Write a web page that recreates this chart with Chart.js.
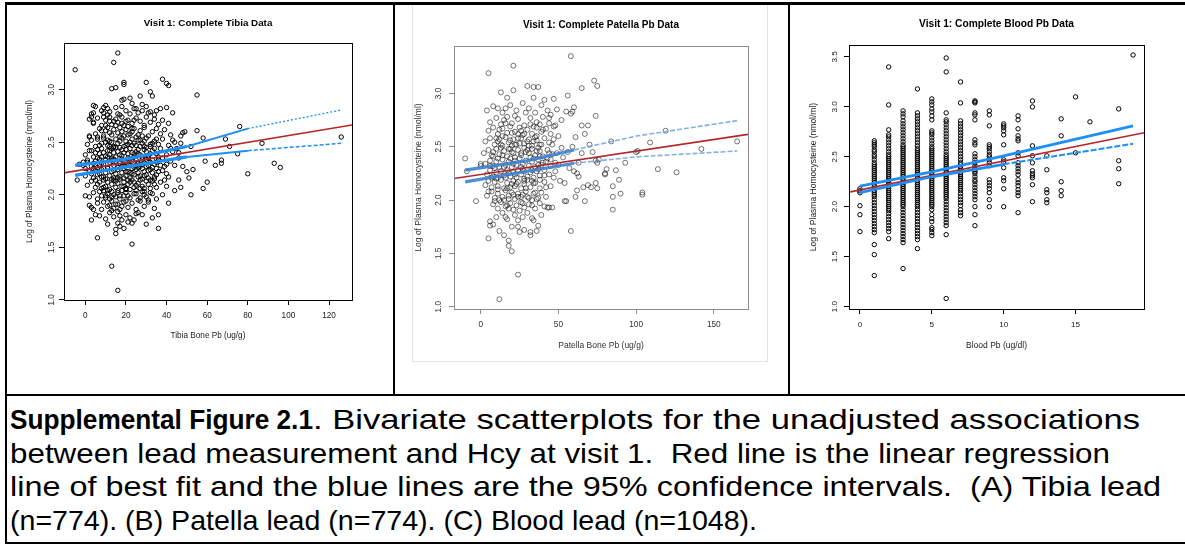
<!DOCTYPE html>
<html>
<head>
<meta charset="utf-8">
<script src="https://cdn.jsdelivr.net/npm/chart.js@4.4.1/dist/chart.umd.min.js"></script>
<style>
  body { margin: 0; background: #fff; width: 1185px; height: 544px; overflow: hidden; position: relative;
         font-family: "Liberation Sans", Arial, Helvetica, sans-serif; }
  .rule { position: absolute; background: #000; }
  canvas { position: absolute; }
  #frame2 { position: absolute; left: 412px; top: 4px; width: 354px; height: 356px;
            border: 1px solid #e4e4e4; border-top: 1px solid #9a9a9a; }
  #caption { position: absolute; left: 10px; top: 403px; font-size: 28px; line-height: 33.5px;
             white-space: pre; color: #000; }
  #caption span { display: inline-block; transform-origin: 0 50%; }
</style>
</head>
<body>
<div id="frame2"></div>
<canvas id="tibia" width="386" height="389" style="left:7px;top:5px"></canvas>
<canvas id="patella" width="391" height="389" style="left:396px;top:5px"></canvas>
<canvas id="blood" width="395" height="389" style="left:790px;top:5px"></canvas>

<div class="rule" style="left:5px;top:2px;width:1180px;height:3px"></div>
<div class="rule" style="left:5px;top:2px;width:2px;height:542px"></div>
<div class="rule" style="left:393px;top:2px;width:2px;height:394px"></div>
<div class="rule" style="left:788px;top:2px;width:2px;height:394px"></div>
<div class="rule" style="left:5px;top:394px;width:1180px;height:2px"></div>
<div class="rule" style="left:5px;top:542px;width:1180px;height:2px"></div>

<div id="caption"><div><span><b>Supplemental Figure 2.1</b></span><span>. Bivariate scatterplots for the unadjusted associations</span></div><div><span>between lead measurement and Hcy at visit 1.  Red line is the linear regression</span></div><div><span>line of best fit and the blue lines are the 95% confidence intervals.  (A) Tibia lead</span></div><div><span>(n=774). (B) Patella lead (n=774). (C) Blood lead (n=1048).</span></div></div>

<script>
// tick labels
const tibiaTicksX = [0, 20, 40, 60, 80, 100, 120];
const patellaTicksX = [0, 50, 100, 150];
const bloodTicksX = [0, 5, 10, 15];
const hcyTicks = [1.0, 1.5, 2.0, 2.5, 3.0];
const bloodHcyTicks = [1.0, 1.5, 2.0, 2.5, 3.0, 3.5];

// visit 1 tibia Pb (ug/g) vs log Hcy
const tibiaPoints = [
  [-5,3.19],[16,3.35],[14,3.26],[19,3.07],[19,3.05],[13,3.01],[15,3.02],[30,3.07],[38,3.10],[40,3.06],[41,3.04],
  [32,2.98],[33,2.94],[55,2.95],[43,2.78],[40,2.83],[76,2.65],[58,2.54],[55,2.61],[69,2.53],[71,2.46],[75,2.39],
  [87,2.49],[126,2.55],[93,2.30],[96,2.26],[80,2.20],[67,2.33],[67,2.30],[64,2.28],[59,2.32],[58,2.06],[60,2.12],
  [52,2.00],[51,2.16],[53,2.24],[50,2.22],[48,2.59],[47,2.56],[47,2.49],[46,2.40],[46,2.35],[44,2.04],[41,1.92],
  [47,2.07],[46,2.14],[38,2.00],[36,1.81],[36,1.68],[33,1.78],[30,1.72],[28,1.81],[25,1.82],[24,1.76],[23,1.53],
  [23,1.73],[13,1.32],[16,1.09],[6,1.59],[15,1.63],[15,1.67],[3,1.76],[5,1.81],[2,1.90],[0,1.99],[4,1.86],
  [-4,2.14],[-3,2.29],[-1,2.31],[0,2.25],[1,2.31],[2,2.56],[2,2.55],[4,2.85],[4,2.78],[3,2.74],[4,2.69],
  [10,2.85],[9,2.83],[11,2.76],[18,2.90],[19,2.91],[22,2.92],[23,2.87],[25,2.82],[27,2.94],[28,2.86],[49,2.60],
  [52,2.46],[45,2.44],[48,2.27],[43,2.52],[44,2.28],[40,2.20],
  [3,2.77],[5,2.84],[8,2.80],[9,2.78],[11,2.82],[12,2.79],[15,2.83],[17,2.76],[18,2.84],[20,2.80],[22,2.77],
  [24,2.82],[26,2.78],[28,2.80],[30,2.84],[32,2.79],[34,2.76],[37,2.82],[31,2.78],[35,2.80],
  [2,2.72],[4,2.68],[6,2.73],[8,2.66],[10,2.71],[12,2.74],[13,2.67],[15,2.72],[16,2.69],[18,2.74],[19,2.66],
  [21,2.71],[23,2.68],[25,2.73],[27,2.70],[29,2.66],[30,2.74],[32,2.69],[34,2.72],[36,2.67],[38,2.71],[41,2.68],
  [20,2.70],[14,2.70],
  [5,2.58],[7,2.63],[9,2.56],[10,2.61],[11,2.64],[13,2.57],[14,2.62],[16,2.59],[17,2.64],[19,2.56],[20,2.62],
  [22,2.58],[24,2.63],[26,2.57],[27,2.61],[29,2.64],[31,2.56],[33,2.60],[35,2.63],[37,2.58],[39,2.62],[42,2.57],
  [18,2.60],[23,2.60],[12,2.59],[8,2.61],
  [1,2.48],[3,2.52],[5,2.46],[6,2.53],[8,2.49],[9,2.54],[11,2.47],[12,2.51],[14,2.45],[15,2.53],[16,2.49],
  [18,2.54],[19,2.46],[20,2.51],[21,2.48],[23,2.53],[25,2.47],[26,2.52],[28,2.49],[30,2.54],[32,2.46],[34,2.51],
  [36,2.48],[38,2.53],[41,2.47],[44,2.50],[13,2.50],[17,2.51],[22,2.50],[27,2.46],[10,2.50],[24,2.49],[29,2.51],
  [33,2.49],[35,2.53],
  [0,2.38],[2,2.42],[4,2.36],[6,2.43],[7,2.39],[8,2.44],[10,2.37],[11,2.42],[12,2.38],[13,2.44],[15,2.36],
  [16,2.41],[17,2.45],[18,2.37],[20,2.43],[21,2.39],[22,2.44],[24,2.36],[25,2.41],[27,2.38],[29,2.43],[31,2.37],
  [33,2.42],[35,2.39],[37,2.44],[40,2.38],[43,2.41],[9,2.40],[14,2.40],[19,2.40],[23,2.40],[26,2.43],[28,2.36],
  [30,2.41],[32,2.39],[34,2.44],[36,2.36],[5,2.40],
  [-1,2.28],[1,2.33],[3,2.27],[5,2.32],[6,2.26],[7,2.34],[9,2.29],[10,2.33],[11,2.26],[12,2.31],[13,2.35],
  [14,2.28],[15,2.32],[16,2.26],[17,2.30],[18,2.34],[19,2.27],[20,2.31],[21,2.35],[22,2.28],[23,2.32],[24,2.26],
  [26,2.30],[28,2.34],[30,2.27],[32,2.31],[34,2.29],[36,2.33],[39,2.27],[42,2.32],[8,2.30],[4,2.30],[25,2.33],
  [27,2.27],[29,2.30],[31,2.35],[33,2.26],[35,2.31],[37,2.28],
  [0,2.18],[2,2.22],[4,2.16],[5,2.23],[6,2.19],[8,2.24],[9,2.17],[10,2.21],[11,2.25],[12,2.18],[13,2.22],
  [14,2.16],[15,2.20],[16,2.24],[17,2.17],[18,2.21],[19,2.25],[20,2.18],[21,2.22],[22,2.16],[23,2.20],[25,2.24],
  [27,2.18],[29,2.22],[31,2.16],[33,2.21],[35,2.19],[38,2.23],[41,2.17],[7,2.20],[3,2.20],[24,2.19],[26,2.21],
  [28,2.25],[30,2.19],[32,2.24],[34,2.17],[36,2.22],
  [1,2.09],[3,2.13],[5,2.07],[7,2.12],[8,2.06],[9,2.14],[10,2.08],[11,2.12],[12,2.05],[13,2.10],[14,2.14],
  [15,2.07],[16,2.11],[17,2.15],[18,2.08],[19,2.12],[20,2.06],[21,2.10],[23,2.14],[24,2.07],[26,2.11],[28,2.08],
  [30,2.13],[32,2.06],[34,2.10],[37,2.12],[40,2.08],[6,2.10],[22,2.12],[25,2.09],[27,2.14],[29,2.06],[31,2.10],
  [33,2.13],[35,2.07],
  [2,1.98],[4,2.02],[6,1.96],[7,2.03],[8,1.99],[9,2.04],[10,1.97],[11,2.01],[12,1.96],[13,2.03],[15,1.98],
  [16,2.02],[17,1.96],[18,2.04],[19,1.99],[20,2.02],[22,1.97],[24,2.01],[26,1.95],[28,2.03],[30,1.98],[33,2.01],
  [35,1.96],[14,2.00],[21,1.99],[25,2.04],[27,1.97],[29,2.00],[31,1.95],[32,2.02],
  [3,1.88],[6,1.92],[8,1.86],[9,1.93],[11,1.89],[13,1.94],[14,1.87],[16,1.91],[17,1.86],[19,1.93],[21,1.88],
  [23,1.92],[25,1.86],[27,1.94],[29,1.89],[31,1.93],[34,1.87],[12,1.90],[18,1.89],[20,1.94],
  [7,1.80],[10,1.77],[12,1.83],[14,1.79],[16,1.84],[18,1.76],[20,1.81],[22,1.78],[26,1.83],[13,1.85],[17,1.80],
  [11,1.72],[17,1.70],[19,1.68],[21,1.74],[16,1.73],
  [6,2.55],[7,2.47],[8,2.36],[9,2.25],[10,2.15],[11,2.04],[12,2.46],[13,2.33],[14,2.23],[15,2.13],[16,2.04],
  [17,2.55],[18,2.43],[19,2.32],[20,2.22],[21,2.14],[22,2.05],[23,2.47],[24,2.39],[25,2.28],[26,2.17],[27,2.06],
  [28,2.56],[29,2.46],[30,2.34],[31,2.23],[32,2.14],[7,2.28],[8,2.17],[9,2.07],[10,1.99],[11,2.52],[12,2.42],
  [13,2.15],[14,2.34],[15,2.45],[16,2.16],[17,2.38],[18,2.27],[19,2.16],[20,2.05],[21,2.57],[22,2.34],[23,2.25],
  [24,2.12],[25,2.01],[26,2.39],[27,2.29],[28,2.15],[29,2.03],[30,2.45],[31,2.28],[33,2.33],[34,2.15],[6,2.35],
  [5,2.14],[4,2.25],[3,2.42],[13,1.98],[15,1.91],[17,1.99],[19,2.08],[21,2.29],[23,2.63],[25,2.55],[27,2.52],
  [10,2.66],[12,2.70],[15,2.66],[18,2.68],[21,2.65],[24,2.71],[9,2.74],[16,2.77],[14,2.46],[11,2.36],[20,2.47],
  [22,2.21],[26,2.26],[29,2.18],[32,2.48],[35,2.25],[38,2.35],[40,2.29],[42,2.44],[39,2.14]
];

// visit 1 patella Pb (ug/g) vs log Hcy
const patellaPoints = [
  [-10,2.39],[-9,2.27],[-3,1.99],[0,2.34],[0,2.32],[5,3.19],[21,3.26],[58,3.35],[73,3.12],[75,3.07],[65,3.05],
  [56,2.98],[74,2.79],[65,2.70],[69,2.70],[67,2.62],[61,2.59],[84,2.55],[119,2.65],[109,2.54],[100,2.45],[101,2.46],
  [142,2.48],[165,2.55],[114,2.29],[126,2.26],[93,2.35],[87,2.28],[89,2.19],[85,2.13],[85,2.03],[90,2.06],[104,2.07],
  [104,2.05],[85,1.91],[80,2.24],[80,2.25],[81,2.29],[74,2.37],[75,2.35],[76,2.38],[75,2.11],[74,2.16],[71,2.12],
  [69,2.14],[66,2.12],[67,1.99],[61,2.03],[62,2.09],[58,1.71],[54,1.99],[55,1.99],[54,2.16],[49,2.85],[47,2.95],
  [55,2.83],[59,2.83],[60,2.87],[58,2.81],[41,2.94],[34,3.06],[37,3.06],[30,3.07],[34,2.96],[13,3.01],[21,3.03],
  [17,2.96],[4,2.84],[11,2.86],[12,1.71],[5,1.64],[6,1.80],[6,1.76],[8,1.77],[18,1.62],[18,1.57],[20,1.52],
  [24,1.30],[12,1.07],[15,1.67],[16,1.84],[20,1.75],[24,1.75],[25,1.70],[28,1.72],[32,1.70],[32,1.67],[36,1.71],
  [37,1.76],[34,1.81],[39,1.86],[43,1.93],[44,1.93],[46,1.93],[60,2.27],[62,2.25],[63,2.22],[57,2.30],[52,2.49],
  [53,2.40],[56,2.45],[59,2.50],[65,2.44],[70,2.52],[72,2.45],[63,2.35],[50,2.60],[48,2.70],[52,2.75],[45,2.80],
  [44,2.77],
  [8,2.88],[14,2.82],[19,2.89],[23,2.84],[27,2.91],[31,2.86],[35,2.82],[39,2.89],[43,2.84],[16,2.86],[29,2.82],
  [6,2.73],[10,2.77],[13,2.71],[17,2.78],[20,2.72],[24,2.76],[28,2.70],[32,2.77],[36,2.73],[40,2.78],[44,2.72],
  [22,2.79],[38,2.71],[15,2.75],
  [5,2.65],[8,2.68],[11,2.62],[14,2.67],[17,2.63],[19,2.69],[22,2.64],[25,2.68],[27,2.61],[30,2.66],[33,2.62],
  [36,2.68],[39,2.64],[42,2.67],[45,2.62],[47,2.69],[24,2.62],[34,2.69],
  [3,2.55],[6,2.58],[9,2.52],[12,2.57],[14,2.51],[16,2.59],[18,2.54],[21,2.57],[23,2.52],[26,2.58],[28,2.53],
  [31,2.57],[33,2.51],[36,2.56],[38,2.52],[41,2.58],[44,2.54],[47,2.57],[20,2.51],[30,2.55],[11,2.55],[35,2.59],
  [2,2.44],[5,2.47],[7,2.42],[10,2.48],[12,2.43],[15,2.46],[17,2.41],[19,2.48],[21,2.44],[24,2.47],[26,2.42],
  [28,2.49],[31,2.44],[33,2.48],[35,2.42],[38,2.46],[40,2.41],[43,2.47],[46,2.43],[8,2.45],[13,2.49],[22,2.40],
  [29,2.45],[37,2.49],[44,2.44],
  [3,2.34],[6,2.37],[8,2.32],[10,2.36],[12,2.31],[14,2.38],[16,2.33],[18,2.36],[20,2.31],[22,2.37],[23,2.33],
  [25,2.39],[27,2.34],[29,2.37],[31,2.32],[33,2.36],[35,2.31],[37,2.38],[39,2.33],[42,2.36],[45,2.32],[48,2.35],
  [11,2.39],[19,2.39],[26,2.31],[34,2.39],
  [4,2.24],[6,2.28],[8,2.22],[10,2.26],[11,2.21],[13,2.27],[15,2.23],[17,2.28],[19,2.22],[21,2.26],[23,2.21],
  [24,2.28],[26,2.24],[28,2.27],[30,2.22],[32,2.26],[34,2.21],[36,2.27],[38,2.23],[41,2.28],[44,2.24],[47,2.21],
  [18,2.25],[28,2.20],[37,2.29],
  [3,2.14],[5,2.18],[7,2.12],[9,2.17],[11,2.13],[13,2.19],[15,2.11],[17,2.16],[19,2.12],[21,2.18],[22,2.13],
  [24,2.17],[26,2.11],[28,2.15],[30,2.19],[32,2.12],[35,2.16],[38,2.11],[41,2.17],[45,2.13],[20,2.15],[33,2.18],
  [4,2.04],[7,2.08],[9,2.02],[11,2.06],[14,2.03],[16,2.09],[18,2.04],[20,2.07],[22,2.01],[24,2.06],[26,2.03],
  [29,2.08],[31,2.02],[34,2.06],[36,2.01],[39,2.07],[42,2.03],[15,2.00],[27,2.05],[33,2.00],
  [8,1.96],[11,1.92],[13,1.98],[16,1.94],[19,1.97],[21,1.91],[23,1.95],[26,1.98],[28,1.93],[31,1.96],[35,1.92],
  [38,1.97],[41,1.94],[18,1.92],[25,1.90],
  [10,1.84],[14,1.88],[17,1.82],[22,1.86],[27,1.84],[30,1.88],[33,1.83],[24,1.81],
  [8,2.41],[9,2.30],[10,2.20],[11,2.10],[12,2.00],[13,2.52],[14,2.42],[15,2.31],[16,2.21],[17,2.11],[18,2.01],
  [19,2.56],[20,2.45],[21,2.34],[22,2.24],[23,2.15],[24,2.03],[25,2.53],[26,2.44],[27,2.29],[28,2.18],[29,2.11],
  [30,2.03],[31,2.51],[32,2.40],[33,2.28],[34,2.16],[35,2.07],[36,2.46],[37,2.33],[38,2.19],[39,2.52],[40,2.35],
  [41,2.23],[42,2.12],[43,2.39],[12,2.66],[16,2.72],[20,2.63],[24,2.58],[28,2.62],[32,2.71],[36,2.60],[40,2.66],
  [10,2.58],[14,2.60],[18,2.48],[22,2.52],[26,2.65],[30,2.47],[34,2.55],[38,2.41],[6,2.32],[7,2.21],[5,2.08],
  [9,1.99],[17,1.95],[21,2.05],[27,1.97],[33,1.95],[37,2.02],[45,2.38],[46,2.52],[48,2.27],[50,2.33],[51,2.18],
  [49,2.44]
];

// visit 1 blood Pb (ug/dl, whole numbers) with the log Hcy values at each level
const bloodColumns = [
  [0, [2.18,2.16,2.14,2.01,1.92,1.75]],
  [1, [2.66,2.64,2.62,2.60,2.57,2.55,2.52,2.50,2.47,2.44,2.42,2.40,2.38,2.36,2.34,2.32,2.30,2.28,2.26,2.24,
       2.22,2.20,2.18,2.16,2.14,2.12,2.10,2.07,2.04,2.01,1.98,1.95,1.92,1.89,1.86,1.83,1.80,1.77,1.74,1.62,1.52,1.31]],
  [2, [3.40,3.02,2.77,2.72,2.70,2.67,2.64,2.61,2.58,2.55,2.52,2.50,2.48,2.46,2.44,2.42,2.40,2.38,2.36,2.34,
       2.32,2.30,2.28,2.26,2.24,2.22,2.20,2.18,2.16,2.14,2.12,2.10,2.08,2.06,2.04,2.02,2.00,1.98,1.96,1.93,
       1.90,1.87,1.84,1.81,1.78,1.75,1.68]],
  [3, [2.96,2.93,2.90,2.86,2.83,2.80,2.77,2.74,2.71,2.68,2.65,2.62,2.60,2.58,2.56,2.54,2.52,2.50,2.48,2.46,
       2.44,2.42,2.40,2.38,2.36,2.34,2.32,2.30,2.28,2.26,2.24,2.22,2.20,2.18,2.16,2.14,2.12,2.10,2.08,2.06,
       2.04,2.02,2.00,1.97,1.94,1.91,1.88,1.85,1.82,1.79,1.76,1.73,1.70,1.67,1.64,1.38]],
  [4, [3.18,2.94,2.91,2.88,2.85,2.82,2.79,2.76,2.73,2.70,2.67,2.64,2.61,2.58,2.56,2.54,2.52,2.50,2.48,2.46,
       2.44,2.42,2.40,2.38,2.36,2.34,2.32,2.30,2.28,2.26,2.24,2.22,2.20,2.18,2.16,2.14,2.12,2.10,2.08,2.06,
       2.04,2.02,2.00,1.97,1.94,1.91,1.88,1.85,1.82,1.79,1.76,1.73,1.70,1.67,1.58]],
  [5, [3.08,3.05,3.02,2.98,2.95,2.91,2.87,2.76,2.74,2.72,2.69,2.66,2.63,2.60,2.58,2.56,2.54,2.52,2.50,2.48,
       2.46,2.44,2.42,2.40,2.38,2.36,2.34,2.32,2.30,2.28,2.26,2.24,2.22,2.20,2.18,2.16,2.14,2.12,2.10,2.08,
       2.06,2.04,2.02,2.00,1.97,1.92,1.88,1.85,1.79,1.77,1.74,1.71]],
  [6, [3.49,3.35,2.94,2.87,2.85,2.82,2.79,2.76,2.73,2.70,2.67,2.64,2.61,2.58,2.55,2.52,2.50,2.48,2.46,2.44,
       2.42,2.40,2.38,2.36,2.34,2.32,2.30,2.28,2.26,2.24,2.22,2.20,2.18,2.16,2.14,2.12,2.10,2.08,2.05,2.02,
       1.99,1.96,1.93,1.90,1.87,1.84,1.81,1.72,1.08]],
  [7, [3.25,3.04,2.86,2.83,2.80,2.77,2.74,2.71,2.68,2.65,2.62,2.59,2.56,2.53,2.50,2.47,2.44,2.42,2.40,2.38,
       2.36,2.34,2.32,2.30,2.28,2.26,2.24,2.22,2.20,2.18,2.16,2.13,2.10,2.07,2.04,2.01,1.97,1.94,1.91]],
  [8, [3.06,3.05,3.04,2.94,2.92,2.87,2.67,2.64,2.62,2.53,2.50,2.47,2.44,2.41,2.39,2.37,2.35,2.33,2.30,2.27,
       2.25,2.22,2.19,2.16,2.13,2.10,2.07,2.00,1.92,1.81]],
  [9, [2.96,2.92,2.81,2.62,2.60,2.58,2.55,2.52,2.50,2.47,2.44,2.41,2.27,2.24,2.21,2.18,2.14,2.07,2.00]],
  [10, [2.83,2.81,2.79,2.76,2.72,2.62,2.47,2.45,2.39,2.29,2.26,2.18,2.00]],
  [11, [2.91,2.87,2.78,2.71,2.68,2.66,2.54,2.51,2.44,2.41,2.38,2.35,2.32,2.27,2.24,2.21,2.17,2.14,2.11,1.94]],
  [12, [3.06,3.00,2.61,2.51,2.44,2.36,2.33,2.31,2.29,2.22,2.05]],
  [13, [2.51,2.37,2.17,2.14,2.07,2.04]],
  [14, [2.88,2.71,2.25,2.16,2.11]],
  [15, [3.10,2.54]],
  [16, [2.85]],
  [18, [2.98,2.46,2.38,2.23]],
  [19, [3.52]]
];

// regression fits [intercept, slope] and the 95% confidence limits [x, log Hcy]
const tibiaFit = [2.242, 0.00322];
const tibiaUpper = [[-5,2.28],[20,2.34],[50,2.46],[80,2.63],[126,2.807]];
const tibiaLower = [[-5,2.185],[20,2.265],[50,2.36],[80,2.42],[126,2.49]];

const patellaFit = [2.240, 0.002185];
const patellaUpper = [[-10,2.28],[30,2.37],[60,2.47],[100,2.60],[165,2.745]];
const patellaLower = [[-10,2.17],[30,2.27],[60,2.345],[100,2.405],[165,2.46]];

const bloodFit = [2.168, 0.029];
const bloodUpper = [[0,2.205],[5,2.35],[10,2.51],[19,2.81]];
const bloodLower = [[0,2.14],[5,2.30],[10,2.425],[19,2.63]];

// rendered widths of the caption pieces (bold label, rest of line 1, lines 2-4)
const captionWidths = [303, 827, 1100, 1151, 747];

const RED = '#b3262a';
const BLUE = '#1e8ff5';

const toXY = pts => pts.map(([x, y]) => ({ x, y }));

// frame around the plotting region
const plotBox = {
  id: 'plotBox',
  afterDraw(chart, args, opts) {
    const { ctx, chartArea: a } = chart;
    ctx.save();
    ctx.strokeStyle = opts.color || '#000';
    ctx.lineWidth = 1;
    ctx.strokeRect(Math.round(a.left) + 0.5, Math.round(a.top) + 0.5,
                   Math.round(a.right - a.left), Math.round(a.bottom - a.top));
    ctx.restore();
  }
};

function line(data, color, width, dash) {
  return { type: 'line', data: toXY(data), borderColor: color, borderWidth: width,
           borderDash: dash || [], pointRadius: 0, fill: false, tension: 0 };
}

function fitLine(fit, xMin, xMax) {
  return line([[xMin, fit[0] + fit[1] * xMin], [xMax, fit[0] + fit[1] * xMax]], RED, 1.6);
}

function makeChart(id, p) {
  const [l, t, r, b] = p.area;
  const lhTitle = p.titleSize * 1.2, lhTick = p.tickSize * 1.2, lhLab = p.labelSize * 1.2;
  const widest = p.tickSize * 1.39;
  return new Chart(document.getElementById(id), {
    type: 'scatter',
    data: { datasets: p.datasets },
    options: {
      responsive: false,
      animation: false,
      devicePixelRatio: 1,
      layout: { padding: { left: 0, top: 0, right: p.width - r, bottom: 0 } },
      plugins: {
        legend: { display: false },
        tooltip: { enabled: false },
        title: {
          display: true, text: p.title, fullSize: false, color: '#000',
          font: { size: p.titleSize, weight: 'bold' },
          padding: { top: p.titleY - lhTitle / 2, bottom: t - p.titleY - lhTitle / 2 }
        },
        plotBox: { color: p.ink }
      },
      scales: {
        x: {
          type: 'linear', min: p.xMin, max: p.xMax,
          afterBuildTicks: s => { s.ticks = p.xTicks.map(v => ({ value: v })); },
          afterFit: s => { s.height = p.height - b; },
          grid: { display: true, drawOnChartArea: false, tickLength: 5, color: p.ink },
          border: { display: false },
          ticks: { font: { size: p.tickSize }, color: p.text, maxRotation: 0,
                   padding: p.xTickY - b - 5 - lhTick / 2 },
          title: { display: true, text: p.xLabel, color: p.text, font: { size: p.labelSize },
                   padding: { top: 0, bottom: p.height - p.xTitleY - lhLab / 2 } }
        },
        y: {
          type: 'linear', min: p.yMin, max: p.yMax,
          afterBuildTicks: s => { s.ticks = p.yTicks.map(v => ({ value: v })); },
          afterFit: s => { s.width = l; },
          grid: { display: true, drawOnChartArea: false, tickLength: 5, color: p.ink },
          border: { display: false },
          ticks: { font: { size: p.tickSize }, color: p.text, minRotation: 90, maxRotation: 90,
                   crossAlign: 'center', padding: l - 5 - p.yTickX - widest / 2,
                   callback: v => v.toFixed(1) },
          title: { display: true, text: 'Log of Plasma Homocysteine (nmol/ml)', color: p.text,
                   font: { size: p.labelSize },
                   padding: { top: p.yTitleX - lhLab / 2, bottom: 0 } }
        }
      }
    },
    plugins: [plotBox]
  });
}

Chart.defaults.font.family = '"Liberation Sans", Arial, Helvetica, sans-serif';

makeChart('tibia', {
  width: 386, height: 389, area: [57, 38, 345, 295],
  titleY: 18.7, yTickX: 45, yTitleX: 23, xTickY: 311, xTitleY: 331,
  titleSize: 9.8, tickSize: 8.2, labelSize: 8.2, ink: '#000', text: '#222',
  title: 'Visit 1: Complete Tibia Data', xLabel: 'Tibia Bone Pb (ug/g)',
  xMin: -10.5, xMax: 131.3, yMin: 0.998, yMax: 3.445, xTicks: tibiaTicksX, yTicks: hcyTicks,
  datasets: [
    line(tibiaUpper.slice(0, 3), BLUE, 3.2),
    line(tibiaLower.slice(0, 3), BLUE, 3.2),
    line(tibiaUpper.slice(2, 4), BLUE, 2),
    line(tibiaLower.slice(2, 4), BLUE, 2),
    line(tibiaUpper.slice(3), BLUE, 1.3, [2, 2]),
    line(tibiaLower.slice(3), BLUE, 1.5, [4, 2]),
    fitLine(tibiaFit, -10.5, 131.3),
    { data: toXY(tibiaPoints), pointRadius: 2.2, pointBorderWidth: 1,
      pointBorderColor: '#000', pointBackgroundColor: 'rgba(0,0,0,0)' }
  ]
});

makeChart('patella', {
  width: 391, height: 389, area: [58, 41, 352, 304],
  titleY: 20, yTickX: 42.8, yTitleX: 23, xTickY: 320, xTitleY: 340.7,
  titleSize: 10, tickSize: 8.3, labelSize: 8.5, ink: '#8c8c8c', text: '#333',
  title: 'Visit 1: Complete Patella Pb Data', xLabel: 'Patella Bone Pb (ug/g)',
  xMin: -17.2, xMax: 172, yMin: 0.978, yMax: 3.445, xTicks: patellaTicksX, yTicks: hcyTicks,
  datasets: [
    line(patellaUpper.slice(0, 3), 'rgba(60,130,210,0.9)', 3.2),
    line(patellaLower.slice(0, 3), 'rgba(60,130,210,0.9)', 3.2),
    line(patellaUpper.slice(2), 'rgba(90,150,220,0.75)', 1.6, [5, 2]),
    line(patellaLower.slice(2), 'rgba(90,150,220,0.75)', 1.6, [5, 2]),
    fitLine(patellaFit, -17.2, 172),
    { data: toXY(patellaPoints), pointRadius: 2.5, pointBorderWidth: 0.9,
      pointBorderColor: 'rgba(0,0,0,0.6)', pointBackgroundColor: 'rgba(0,0,0,0)' }
  ]
});

makeChart('blood', {
  width: 395, height: 389, area: [59, 40, 354, 304],
  titleY: 19.3, yTickX: 44.5, yTitleX: 24, xTickY: 320, xTitleY: 341,
  titleSize: 10.2, tickSize: 8.1, labelSize: 8.5, ink: '#000', text: '#222',
  title: 'Visit 1: Complete Blood Pb Data', xLabel: 'Blood Pb (ug/dl)',
  xMin: -0.76, xMax: 19.76, yMin: 0.975, yMax: 3.62, xTicks: bloodTicksX, yTicks: bloodHcyTicks,
  datasets: [
    line(bloodUpper, BLUE, 2.8),
    line(bloodLower.slice(0, 3), BLUE, 2.8),
    line(bloodLower.slice(2), BLUE, 2, [6, 2]),
    fitLine(bloodFit, -0.76, 19.76),
    { data: bloodColumns.flatMap(([x, ys]) => ys.map(y => ({ x, y }))),
      pointRadius: 2.2, pointBorderWidth: 1,
      pointBorderColor: '#000', pointBackgroundColor: 'rgba(0,0,0,0)' }
  ]
});

// squeeze or stretch each caption piece to its set width, keeping the following text in step
document.querySelectorAll('#caption span').forEach((s, i) => {
  const w = s.getBoundingClientRect().width;
  s.style.transform = 'scaleX(' + (captionWidths[i] / w) + ')';
  s.style.marginRight = (captionWidths[i] - w) + 'px';
});
</script>
</body>
</html>
